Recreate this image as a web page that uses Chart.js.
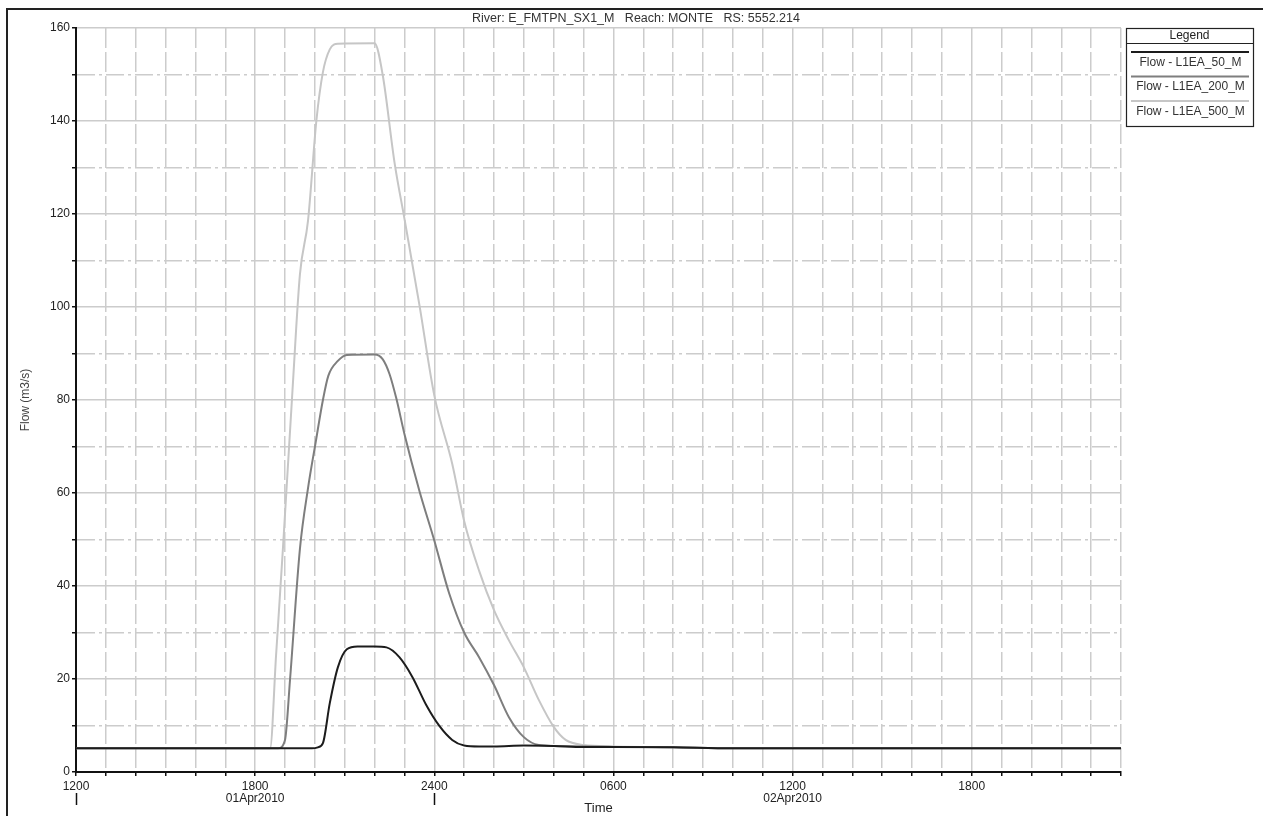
<!DOCTYPE html>
<html>
<head>
<meta charset="utf-8">
<script src="https://cdn.jsdelivr.net/npm/chart.js@4.4.1/dist/chart.umd.min.js"></script>
<style>
  html, body { margin: 0; padding: 0; background: #fff; }
  #wrap { position: relative; width: 1263px; height: 816px; }
</style>
</head>
<body>
<div id="wrap"><canvas id="flowChart"></canvas></div>
<script>
// hydrograph - River E_FMTPN_SX1_M, reach MONTE
const chartTitle = 'River: E_FMTPN_SX1_M   Reach: MONTE   RS: 5552.214';
const seriesNames = ['Flow - L1EA_50_M', 'Flow - L1EA_200_M', 'Flow - L1EA_500_M'];
const seriesColors = ['#1c1c1c', '#7e7e7e', '#c6c6c6'];

// x = hours since 01Apr2010 1200
const hours50 = [0, 7.9, 8.1, 8.27, 8.5, 8.77, 9.07, 9.43, 10.0, 10.4, 10.83, 11.27, 11.73, 12.17, 12.6, 13.0, 13.5, 14.0, 15.0, 16.0, 17.0, 18.0, 20.0, 22.0, 35];
const flow50 = [5.1, 5.1, 5.3, 6.2, 14.8, 22.5, 26.4, 27.0, 27.0, 26.8, 24.7, 20.4, 14.4, 9.9, 6.9, 5.7, 5.5, 5.5, 5.7, 5.6, 5.4, 5.4, 5.3, 5.1, 5.1];

const hours200 = [0, 6.77, 7.0, 7.17, 7.5, 7.77, 8.03, 8.27, 8.45, 8.77, 9.07, 10.0, 10.27, 10.5, 10.73, 11.0, 11.5, 12.0, 12.5, 13.0, 13.5, 14.0, 14.5, 15.0, 15.5, 16.0, 18.0, 20.0, 22.0, 35];
const flow200 = [5.1, 5.1, 6.9, 20, 48, 61, 71, 80, 85.2, 88.4, 89.7, 89.8, 88.8, 85.6, 80.3, 72.7, 60.5, 49.8, 38.4, 30, 24.7, 18.7, 11.8, 7.5, 5.8, 5.6, 5.4, 5.3, 5.1, 5.1];

const hours500 = [0, 6.5, 6.7, 6.93, 7.25, 7.5, 7.77, 8.05, 8.27, 8.5, 8.77, 10.0, 10.27, 10.67, 11.0, 11.5, 12.0, 12.6, 13.0, 13.5, 14.0, 14.5, 15.0, 15.5, 16.0, 16.4, 17.0, 18.0, 20.0, 22.0, 35];
const flow500 = [5.1, 5.1, 25, 48, 82, 107, 118.5, 140, 150.5, 155.4, 156.6, 156.7, 150, 131, 119, 100.5, 81, 66.3, 54, 43.3, 34.8, 28.3, 22.5, 15.5, 9.7, 6.9, 5.8, 5.5, 5.3, 5.1, 5.1];

// axis labels
const tickHours = [0, 6, 12, 18, 24, 30];
const tickTimes = ['1200', '1800', '2400', '0600', '1200', '1800'];
const tickDates = ['', '01Apr2010', '', '', '02Apr2010', ''];
const dayBreaks = [0, 12];

const FONT = "'Liberation Sans', Arial, sans-serif";
const gridGray = '#cccccc';

function toPoints(xs, ys) {
    return xs.map((x, i) => ({ x: x, y: ys[i] }));
}

// title, frame, legend box and day markers under the time axis
const decorPlugin = {
    id: 'decor',
    afterDraw(chart) {
        const ctx = chart.ctx;
        const area = chart.chartArea;
        const xs = chart.scales.x;
        ctx.save();

        // outer frame
        ctx.strokeStyle = '#222';
        ctx.lineWidth = 2;
        ctx.beginPath();
        ctx.moveTo(7, chart.height);
        ctx.lineTo(7, 9);
        ctx.lineTo(chart.width, 9);
        ctx.stroke();

        // title
        ctx.fillStyle = '#333';
        ctx.font = '12.5px ' + FONT;
        ctx.textAlign = 'center';
        ctx.textBaseline = 'middle';
        ctx.fillText(chartTitle, 636, 18.5);

        // day separators
        ctx.strokeStyle = '#111';
        ctx.lineWidth = 1.5;
        dayBreaks.forEach(h => {
            const px = Math.round(xs.getPixelForValue(h)) + 0.5;
            ctx.beginPath();
            ctx.moveTo(px, area.bottom + 21);
            ctx.lineTo(px, area.bottom + 33);
            ctx.stroke();
        });

        // legend
        const lx = area.right + 5, ly = area.top, lw = 127, lh = 98;
        ctx.strokeStyle = '#222';
        ctx.lineWidth = 1.2;
        ctx.strokeRect(lx + 0.5, ly + 0.5, lw, lh);
        ctx.beginPath();
        ctx.moveTo(lx, ly + 15.5);
        ctx.lineTo(lx + lw, ly + 15.5);
        ctx.stroke();
        ctx.font = '12px ' + FONT;
        ctx.fillStyle = '#222';
        ctx.fillText('Legend', lx + lw / 2, ly + 8);
        chart.data.datasets.forEach((ds, i) => {
            const top = ly + 24 + i * 24.5;
            ctx.strokeStyle = ds.borderColor;
            ctx.lineWidth = 2;
            ctx.beginPath();
            ctx.moveTo(lx + 5, top);
            ctx.lineTo(lx + lw - 4, top);
            ctx.stroke();
            ctx.fillStyle = '#333';
            ctx.fillText(ds.label, lx + lw / 2 + 1, top + 10.5);
        });
        ctx.restore();
    }
};

const ctx = document.getElementById('flowChart').getContext('2d');
new Chart(ctx, {
    type: 'line',
    data: {
        datasets: [
            { label: seriesNames[0], data: toPoints(hours50, flow50), borderColor: seriesColors[0] },
            { label: seriesNames[1], data: toPoints(hours200, flow200), borderColor: seriesColors[1] },
            { label: seriesNames[2], data: toPoints(hours500, flow500), borderColor: seriesColors[2] }
        ]
    },
    options: {
        responsive: true,
        maintainAspectRatio: false,
        animation: false,
        layout: { padding: { top: 28, right: 142, left: 0, bottom: 0 } },
        elements: {
            line: { borderWidth: 2, cubicInterpolationMode: 'monotone', fill: false },
            point: { radius: 0 }
        },
        plugins: {
            legend: { display: false },
            tooltip: { enabled: false }
        },
        scales: {
            x: {
                type: 'linear',
                min: 0,
                max: 35,
                afterFit: s => { s.height = 44; },
                ticks: {
                    stepSize: 1,
                    autoSkip: false,
                    maxRotation: 0,
                    padding: 5,
                    color: '#222',
                    font: { family: FONT, size: 12, lineHeight: 1.0 },
                    callback: v => {
                        const i = tickHours.indexOf(v);
                        if (i < 0) return '';
                        return tickDates[i] ? [tickTimes[i], tickDates[i]] : tickTimes[i];
                    }
                },
                grid: {
                    color: gridGray,
                    lineWidth: 1.5,
                    tickColor: '#111',
                    tickLength: 4,
                    tickWidth: 1.5
                },
                border: {
                    display: true,
                    color: '#111',
                    width: 2,
                    dash: c => (c.tick && c.tick.value % 6 !== 0) ? [20, 4] : []
                },
                title: {
                    display: true,
                    text: 'Time',
                    color: '#222',
                    font: { family: FONT, size: 13 },
                    padding: { top: 0, bottom: 0 }
                }
            },
            y: {
                min: 0,
                max: 160,
                afterFit: s => { s.width = 76; },
                ticks: {
                    stepSize: 10,
                    autoSkip: false,
                    padding: 2,
                    color: '#222',
                    font: { family: FONT, size: 12 },
                    callback: v => (v % 20 === 0 ? v : '')
                },
                grid: {
                    color: gridGray,
                    lineWidth: 1.5,
                    tickColor: '#111',
                    tickLength: 4,
                    tickWidth: 1.5
                },
                border: {
                    display: true,
                    color: '#111',
                    width: 2,
                    dash: c => (c.tick && c.tick.value % 20 !== 0) ? [18, 4, 3, 4] : []
                },
                title: {
                    display: true,
                    text: 'Flow (m3/s)',
                    color: '#444',
                    font: { family: FONT, size: 12 },
                    padding: { top: 18, bottom: 0 }
                }
            }
        }
    },
    plugins: [decorPlugin]
});
</script>
</body>
</html>
